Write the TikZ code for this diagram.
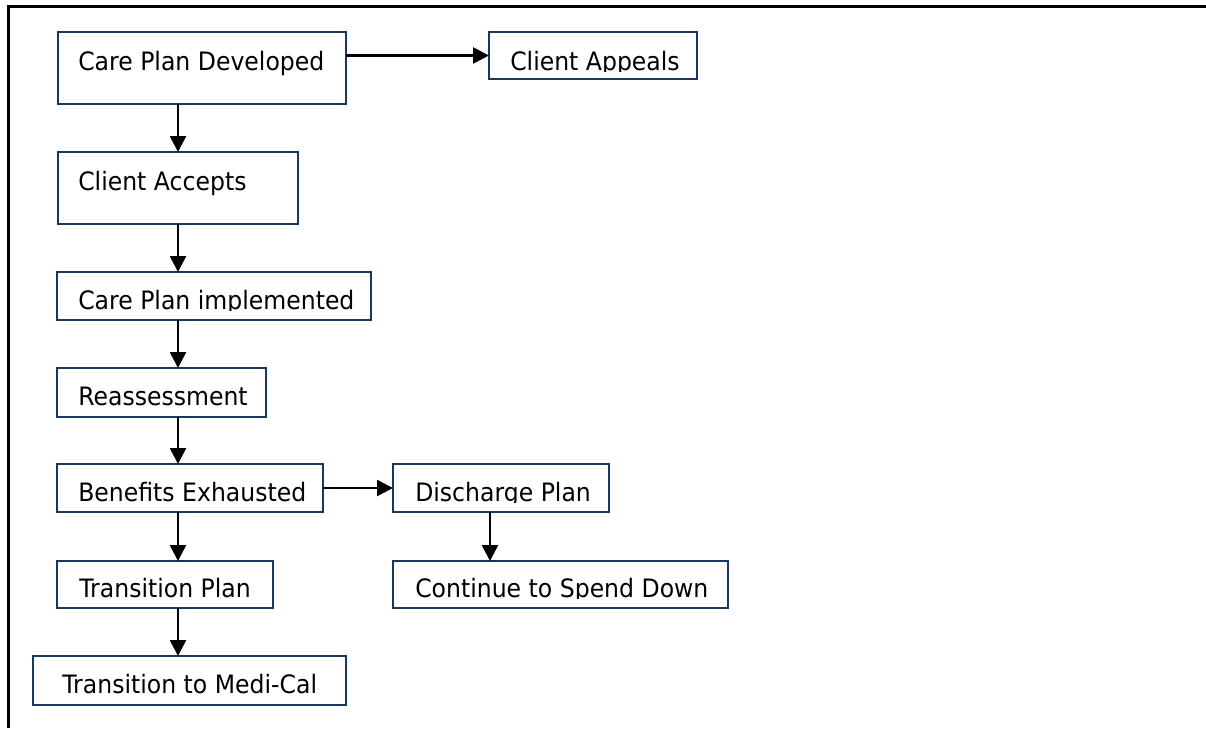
\documentclass[tikz,border=0pt]{standalone}
\usepackage{fontspec}
\setmainfont{DejaVu Sans}[FakeStretch=0.93]
\usetikzlibrary{arrows.meta,calc}
\definecolor{boxblue}{HTML}{17375E}
\tikzset{
  flow/.style={draw=boxblue, line width=1.9pt, rectangle, inner sep=0pt,
    outer sep=0pt, anchor=north west, fill=white},
  lbl/.style={inner sep=0pt, anchor=base west,
    font=\fontsize{19}{22}\selectfont},
  link/.style={draw=black, line width=2pt,
    -{Triangle[width=12pt,length=12pt]}},
  frame/.style={draw=black, line width=2.25pt}
}
% #1 name, #2-#5 box corners (x1,y1,x2,y2), #6 text x, #7 baseline,
% #8 label, #9 clip depth below the baseline
\newcommand{\flowbox}[9]{%
  \node[flow, minimum width={(#4-#2)*0.75pt},
        minimum height={(#5-#3)*0.75pt}] (#1) at (#2,#3) {};
  \begin{scope}
    \clip (#2,#3) rectangle (#4,#7+#9);
    \node[lbl] (#1-text) at (#6,#7) {#8};
  \end{scope}}
\begin{document}
\begin{tikzpicture}[x=0.75pt,y=-0.75pt]
\useasboundingbox (0,0) rectangle (1206,728);
% outer frame (top and left edges)
\draw[frame] (8.5,728) -- (8.5,6.5) -- (1206,6.5);

% main column
\flowbox{cpd}{58}{32}{346}{104}{78}{70}{Care Plan Developed}{30}
\flowbox{ca}{58}{152}{298}{224}{78}{190}{Client Accepts}{30}
\flowbox{cpi}{57}{272}{371}{320}{78}{309}{Care Plan implemented}{1.5}
\flowbox{rea}{57}{368}{266}{417}{78}{405}{Reassessment}{1.5}
\flowbox{ben}{57}{464}{323}{512}{78}{501}{Benefits Exhausted}{1.5}
\flowbox{tp}{57}{561}{273}{608}{79}{597}{Transition Plan}{1.5}
\flowbox{tmc}{33}{656}{346}{705}{62}{693}{Transition to Medi-Cal}{1.5}

% side branches
\flowbox{app}{489}{32}{697}{79}{510}{70}{Client Appeals}{1.5}
\flowbox{dis}{393}{464}{609}{512}{415}{501}{Discharge Plan}{1.5}
\flowbox{csd}{393}{561}{728}{608}{415}{597}{Continue to Spend Down}{1.5}

% connectors
\coordinate (col) at (178,0);
\coordinate (col2) at (490,0);
\draw[link] (col |- cpd.south) -- (col |- ca.north);
\draw[link] (col |- ca.south) -- (col |- cpi.north);
\draw[link] (col |- cpi.south) -- (col |- rea.north);
\draw[link] (col |- rea.south) -- (col |- ben.north);
\draw[link] (col |- ben.south) -- (col |- tp.north);
\draw[link] (col |- tp.south) -- (col |- tmc.north);
\draw[link] (cpd.east |- app.west) -- (app.west);
\draw[link] (ben.east) -- (dis.west);
\draw[link] (col2 |- dis.south) -- (col2 |- csd.north);
\end{tikzpicture}
\end{document}
